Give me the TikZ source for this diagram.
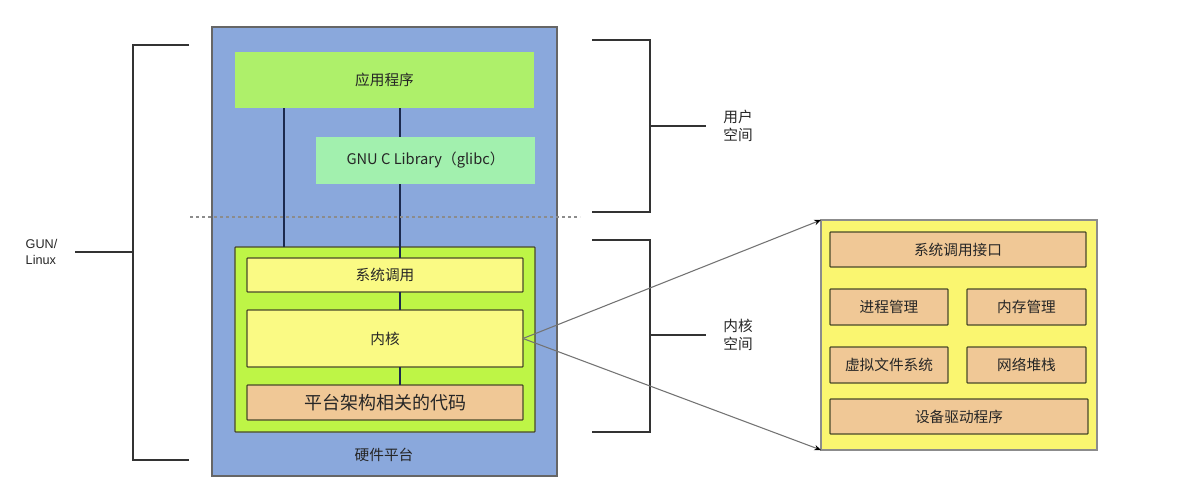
\documentclass[tikz,border=0pt]{standalone}
\usepackage{fontspec}
\setmainfont{Noto Sans CJK SC}
\newfontfamily\latinsans{Liberation Sans}
\usetikzlibrary{arrows.meta}
\definecolor{hwblue}{HTML}{8AA8DC}
\definecolor{appgreen}{HTML}{AEF06A}
\definecolor{libgreen}{HTML}{A2F0AE}
\definecolor{kgreen}{HTML}{BEF546}
\definecolor{kyellow}{HTML}{FAFA84}
\definecolor{ktan}{HTML}{F0C896}
\definecolor{bigyellow}{HTML}{FAF670}
\definecolor{navy}{HTML}{1C2A4E}
\definecolor{edge}{HTML}{4A4A2A}
% box: name, x1, y1, x2, y2, style, text
\newcommand\mybx[7]{\node[#6, minimum width={(#4-#2)*0.75pt}, minimum height={(#5-#3)*0.75pt}] (#1) at ({(#2+#4)/2},{(#3+#5)/2}) {#7};}
\begin{document}
\begin{tikzpicture}[x=0.75pt,y=-0.75pt,
  lbl/.style={font=\fontsize{11}{13}\selectfont, text=black!85},
  box/.style={inner sep=0pt, outer sep=0pt, lbl},
  kbox/.style={box, draw=edge, line width=0.9pt, rounded corners=0.6pt},
  vline/.style={draw=navy, line width=1.6pt},
  brk/.style={draw=black!80, line width=1.6pt},
  arr/.style={draw=black!55, line width=0.8pt, -{Stealth[length=5pt,width=4pt,color=black]}}
]
\useasboundingbox[fill=white] (0,0) rectangle (1202,503);

% hardware platform
\mybx{hw}{212}{27}{557}{476}{box, fill=hwblue, draw=black!60, line width=0.9pt}{}
\node[lbl] (hwl) at (384,455) {硬件平台};

% user space
\mybx{app}{235}{52}{534}{108}{box, fill=appgreen}{应用程序}
\mybx{glibc}{316}{137}{535}{184}{box, fill=libgreen}{GNU C Library（glibc）}

% kernel
\mybx{kern}{235}{247}{535}{432}{kbox, fill=kgreen}{}
\mybx{sys}{247}{258}{523}{292}{kbox, fill=kyellow}{系统调用}
\mybx{core}{247}{310}{523}{367}{kbox, fill=kyellow}{内核}
\mybx{plat}{247}{385}{523}{420}{kbox, fill=ktan, font=\fontsize{13.5}{15}\selectfont}{平台架构相关的代码}

% connectors
\coordinate (c1) at (284,0);
\coordinate (c2) at (400,0);
\draw[vline] (app.south -| c1) -- (kern.north -| c1);
\draw[vline] (app.south -| c2) -- (glibc.north -| c2);
\draw[vline] (glibc.south -| c2) -- (sys.north -| c2);
\draw[vline] (sys.south -| c2) -- (core.north -| c2);
\draw[vline] (core.south -| c2) -- (plat.north -| c2);

% dashed separator
\coordinate (d1) at (190,217);
\coordinate (d2) at (580,217);
\draw[draw=black!45, line width=1pt, dash pattern=on 2.5pt off 2pt] (d1) -- (d2);

% left bracket
\draw[brk] (189,45) -- (133,45) -- (133,460) -- (189,460);
\draw[brk] (133,252) -- (75,252);
\node[anchor=west, align=left, font=\latinsans\fontsize{9.5}{12}\selectfont, text=black!85] (gnu) at (21,252) {GUN/\\Linux};

% right brackets
\draw[brk] (592,40) -- (650,40) -- (650,212) -- (592,212);
\draw[brk] (650,126) -- (706,126);
\node[lbl, align=center] (us) at (738,126) {用户\\空间};
\draw[brk] (592,240) -- (650,240) -- (650,432) -- (592,432);
\draw[brk] (650,335) -- (706,335);
\node[lbl, align=center] (ks) at (738,335) {内核\\空间};

% kernel detail
\mybx{big}{821}{220}{1097}{450}{box, fill=bigyellow, draw=black!45, line width=0.9pt}{}
\mybx{sci}{830}{232}{1086}{267}{kbox, fill=ktan}{系统调用接口}
\mybx{pm}{830}{289}{948}{325}{kbox, fill=ktan}{进程管理}
\mybx{mm}{967}{289}{1086}{325}{kbox, fill=ktan}{内存管理}
\mybx{vfs}{830}{347}{948}{383}{kbox, fill=ktan}{虚拟文件系统}
\mybx{net}{967}{347}{1086}{383}{kbox, fill=ktan}{网络堆栈}
\mybx{dev}{830}{399}{1088}{434}{kbox, fill=ktan}{设备驱动程序}

\draw[arr] (core.east) -- (big.north west);
\draw[arr] (core.east) -- (big.south west);
\end{tikzpicture}
\end{document}
